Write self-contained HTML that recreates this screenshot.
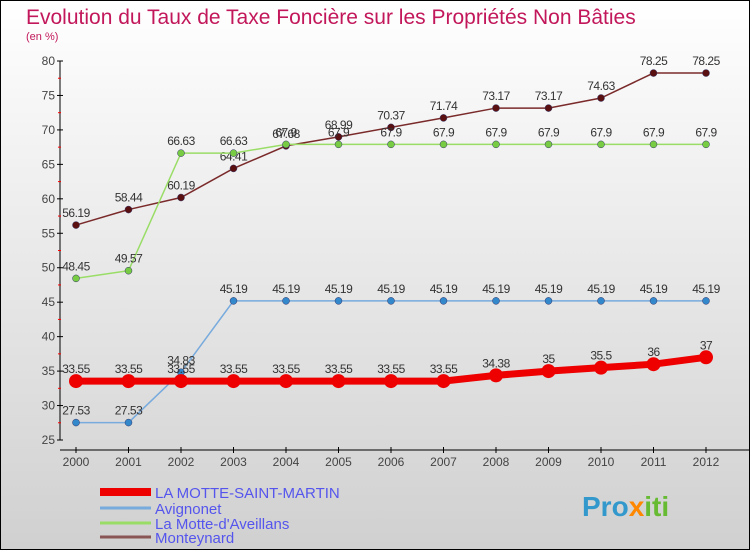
<!DOCTYPE html>
<html><head><meta charset="utf-8"><style>
body{margin:0;}
#c{width:750px;height:550px;position:relative;overflow:hidden;}
svg text{font-family:"Liberation Sans",sans-serif;}
</style></head><body>
<div id="c">
<svg id="s" width="750" height="550" xmlns="http://www.w3.org/2000/svg">
<defs><linearGradient id="bg" x1="0" y1="0" x2="0" y2="1"><stop offset="0" stop-color="#ffffff"/><stop offset="1" stop-color="#d0d0d0"/></linearGradient></defs>
<rect x="0.5" y="0.5" width="749" height="549" fill="url(#bg)" stroke="#000"/>
<text x="26" y="24" font-size="21" fill="#c2185b">Evolution du Taux de Taxe Foncière sur les Propriétés Non Bâties</text>
<text x="26" y="40" font-size="11" fill="#c2185b">(en %)</text>
<g id="axes"></g><g id="series"></g><g id="legend"></g>
<text x="582" y="516" font-size="28" font-weight="bold" fill="#3399cc">Pro<tspan fill="#ff8800">x</tspan><tspan fill="#66bb33">iti</tspan></text>
</svg></div>
<script>
const years=[2000,2001,2002,2003,2004,2005,2006,2007,2008,2009,2010,2011,2012];
const yTicks=[25,30,35,40,45,50,55,60,65,70,75,80];
const names=["LA MOTTE-SAINT-MARTIN","Avignonet","La Motte-d'Aveillans","Monteynard"];
const laMotteSM=[33.55,33.55,33.55,33.55,33.55,33.55,33.55,33.55,34.38,35,35.5,36,37];
const avignonet=[27.53,27.53,34.83,45.19,45.19,45.19,45.19,45.19,45.19,45.19,45.19,45.19,45.19];
const laMotteAv=[48.45,49.57,66.63,66.63,67.9,67.9,67.9,67.9,67.9,67.9,67.9,67.9,67.9];
const monteynard=[56.19,58.44,60.19,64.41,67.68,68.99,70.37,71.74,73.17,73.17,74.63,78.25,78.25];
const NS="http://www.w3.org/2000/svg";
const X=i=>76+i*52.5;
const Y=v=>440-(v-25)*(379/55);
function mk(t,a,p){const e=document.createElementNS(NS,t);for(const k in a)e.setAttribute(k,a[k]);p.appendChild(e);return e;}
const ax=document.getElementById('axes');
let yl=mk('line',{x1:60,y1:Y(80),x2:60,y2:Y(25),stroke:'#000'},ax);


let xl=mk('line',{x1:60,y1:450,x2:750,y2:450,stroke:'#000'},ax);


yTicks.forEach(v=>{
 mk('line',{x1:57,y1:Y(v),x2:63,y2:Y(v),stroke:'#000'},ax);
 if(v<80)mk('line',{x1:58,y1:Y(v+2.5),x2:61,y2:Y(v+2.5),stroke:'#f00'},ax);
 const t=mk('text',{x:55,y:Y(v)+4,'font-size':12,'text-anchor':'end',fill:'#444'},ax);t.textContent=v;
 
 
});
years.forEach((y,i)=>{
 mk('line',{x1:X(i),y1:447,x2:X(i),y2:453,stroke:'#000'},ax);
 const t=mk('text',{x:X(i),y:466,'font-size':12,'text-anchor':'middle',fill:'#444'},ax);t.textContent=y;
 
 
});
const sg=document.getElementById('series');
const defs=[
 {d:monteynard,c:'#7a2a2a',dot:'#5a1010',w:1.5,r:3.5,n:'monteynard'},
 {d:laMotteAv,c:'#99dd66',dot:'#77cc44',w:1.5,r:3.5,n:'la-motte-daveillans'},
 {d:avignonet,c:'#77aadd',dot:'#3388cc',w:1.5,r:3.5,n:'avignonet'},
 {d:laMotteSM,c:'#ee0000',dot:'#ee0000',w:7,r:7,n:'la-motte-saint-martin'}];
defs.forEach(s=>{
 const g=mk('g',{},sg);
 
 
 mk('polyline',{points:s.d.map((v,i)=>X(i)+','+Y(v)).join(' '),fill:'none',stroke:s.c,'stroke-width':s.w},g);
 s.d.forEach((v,i)=>{
  const p=mk('circle',{cx:X(i),cy:Y(v),r:s.r,fill:s.dot,stroke:s.w>2?'none':'#336',"stroke-width":0.5},g);
  
  
  const t=mk('text',{x:X(i),y:Y(v)-8,'font-size':12,'text-anchor':'middle',fill:'#333','letter-spacing':'-0.5'},g);t.textContent=v;
  
  
 });
});
const lg=document.getElementById('legend');
const lc=['#ee0000','#77aadd','#99dd66','#8a5555'],lw=[8,3,3,3],ly=[492,508,523,537];
names.forEach((n,i)=>{
 const g=mk('g',{},lg);
 
 
 mk('line',{x1:100,y1:ly[i],x2:151,y2:ly[i],stroke:lc[i],'stroke-width':lw[i]},g);
 const t=mk('text',{x:155,y:ly[i]+6,'font-size':15,fill:'#5555ee'},g);t.textContent=n;
});
</script>
</body></html>
